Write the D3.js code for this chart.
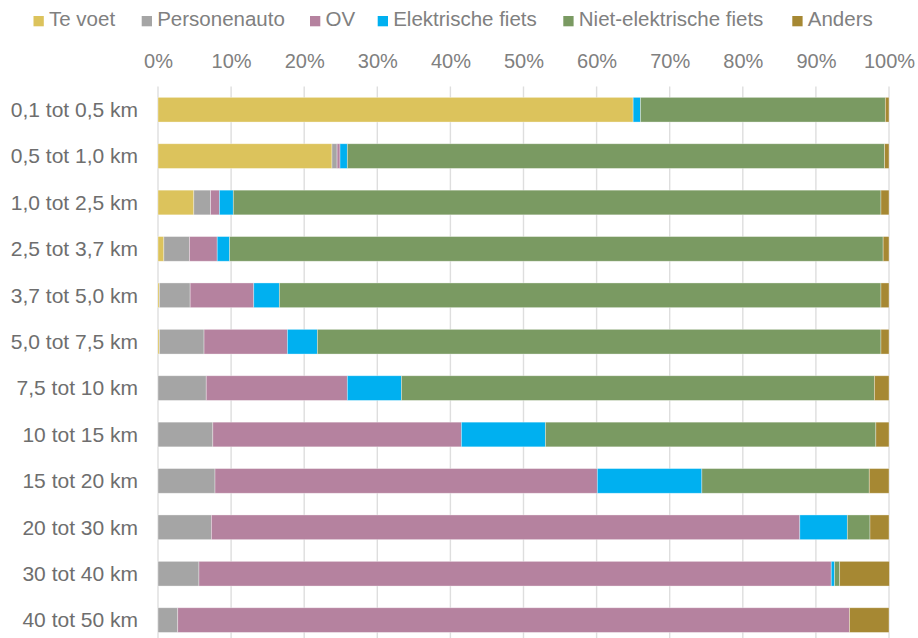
<!DOCTYPE html>
<html>
<head>
<meta charset="utf-8">
<script src="https://cdn.jsdelivr.net/npm/d3@7"></script>
<style>
  body { margin: 0; background: #fff; }
  svg { display: block; font-family: "Liberation Sans", Arial, sans-serif; }
</style>
</head>
<body>
<script>
// afstandsklassen (van boven naar beneden)
const categories = ['0,1 tot 0,5 km', '0,5 tot 1,0 km', '1,0 tot 2,5 km', '2,5 tot 3,7 km',
  '3,7 tot 5,0 km', '5,0 tot 7,5 km', '7,5 tot 10 km', '10 tot 15 km',
  '15 tot 20 km', '20 tot 30 km', '30 tot 40 km', '40 tot 50 km'];

const seriesNames = ['Te voet', 'Personenauto', 'OV', 'Elektrische fiets', 'Niet-elektrische fiets', 'Anders'];
const colors = ['#dcc35c', '#a5a5a5', '#b5829f', '#00b0f0', '#7a9a62', '#a68833'];

// aandeel per vervoerwijze (%), per afstandsklasse
const teVoet        = [65.0, 23.8, 4.9, 0.8, 0.2, 0.2, 0, 0, 0, 0, 0, 0];
const personenauto  = [0, 0.7, 2.3, 3.5, 4.2, 6.1, 6.6, 7.5, 7.8, 7.3, 5.6, 2.7];
const ov            = [0, 0.4, 1.2, 3.8, 8.7, 11.4, 19.3, 34.0, 52.3, 80.5, 86.5, 91.9];
const elektrisch    = [1.0, 1.0, 1.9, 1.7, 3.5, 4.1, 7.4, 11.5, 14.3, 6.5, 0.45, 0];
const nietElektrisch = [33.5, 73.5, 88.6, 89.4, 82.3, 77.1, 64.7, 45.2, 22.9, 3.1, 0.7, 0];
const anders        = [0.5, 0.6, 1.1, 0.8, 1.1, 1.1, 2.0, 1.8, 2.7, 2.6, 6.8, 5.4];

const tickValues = [0, 10, 20, 30, 40, 50, 60, 70, 80, 90, 100];

const width = 918, height = 638;
const seriesData = [teVoet, personenauto, ov, elektrisch, nietElektrisch, anders];

const rows = categories.map((c, i) => {
  const r = { cat: c };
  seriesNames.forEach((s, j) => { r[s] = seriesData[j][i]; });
  return r;
});

const stack = d3.stack().keys(seriesNames);
const layers = stack(rows);

const x = d3.scaleLinear().domain([0, 100]).range([158, 889]);
const y = d3.scaleBand().domain(categories).range([86.5, 643.3]).paddingInner(0.468).paddingOuter(0.234);

const svg = d3.select('body').append('svg')
  .attr('width', width)
  .attr('height', height);

// rasterlijnen
svg.append('g')
  .selectAll('line')
  .data(tickValues)
  .join('line')
  .attr('x1', d => x(d))
  .attr('x2', d => x(d))
  .attr('y1', 86.5)
  .attr('y2', 643)
  .attr('stroke', '#dedede')
  .attr('stroke-width', 1.4);

// x-as bovenaan
const xAxis = svg.append('g')
  .attr('transform', 'translate(0,68)')
  .call(d3.axisTop(x).tickValues(tickValues).tickFormat(d => d + '%').tickSize(0).tickPadding(0));
xAxis.select('.domain').remove();
xAxis.selectAll('text')
  .attr('fill', '#808080')
  .attr('font-family', '"Liberation Sans", Arial, sans-serif')
  .attr('font-size', 20)
  .attr('dy', 0);

// balken
svg.append('g')
  .selectAll('g')
  .data(layers)
  .join('g')
  .attr('fill', (d, i) => colors[i])
  .selectAll('rect')
  .data(d => d)
  .join('rect')
  .attr('x', d => x(d[0]))
  .attr('y', d => y(d.data.cat))
  .attr('width', d => Math.max(0, x(d[1]) - x(d[0])))
  .attr('height', y.bandwidth())
  .attr('stroke', '#ffffff')
  .attr('stroke-opacity', 0.45)
  .attr('stroke-width', 0.75);

// categorie-labels
svg.append('g')
  .selectAll('text')
  .data(categories)
  .join('text')
  .attr('x', 138)
  .attr('y', d => y(d) + y.bandwidth() / 2)
  .attr('dy', '0.35em')
  .attr('text-anchor', 'end')
  .attr('fill', '#6e6e6e')
  .attr('font-size', 21)
  .text(d => d);

// legenda
const legendX = [33.5, 141.7, 310, 377.7, 563.3, 792.3];
const legend = svg.append('g')
  .selectAll('g')
  .data(seriesNames)
  .join('g')
  .attr('transform', (d, i) => `translate(${legendX[i]},0)`);
legend.append('rect')
  .attr('x', 0)
  .attr('y', 16)
  .attr('width', 10.3)
  .attr('height', 10.3)
  .attr('fill', (d, i) => colors[i]);
legend.append('text')
  .attr('x', 15.5)
  .attr('y', 26)
  .attr('fill', '#808080')
  .attr('font-size', 20.5)
  .text(d => d);
</script>
</body>
</html>
